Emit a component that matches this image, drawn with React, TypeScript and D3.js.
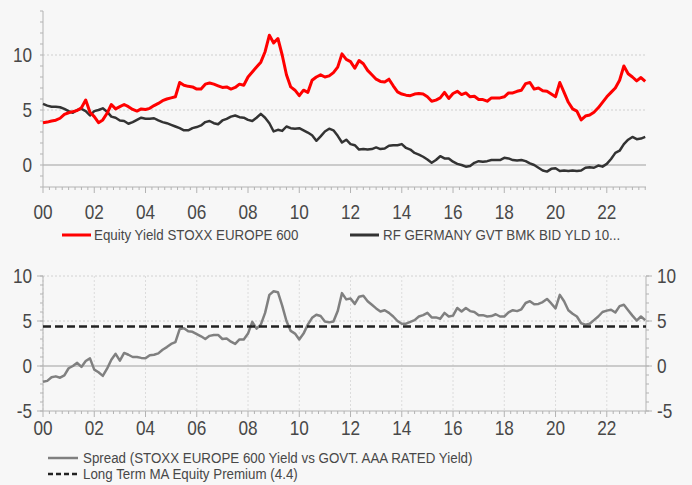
import React from 'react';
import * as d3 from 'd3';

// bi-monthly observations starting Jan 2000
const START_YEAR = 2000;
const STEP = 1 / 6;

const equityYield = [
  3.84, 3.9, 4.0, 4.07, 4.25, 4.6, 4.75, 4.85, 4.95, 5.2, 5.9, 4.8,
  4.4, 3.85, 4.1, 4.7, 5.5, 5.1, 5.3, 5.5, 5.3, 5.05, 4.9, 5.1,
  5.05, 5.15, 5.4, 5.6, 5.85, 6.0, 6.1, 6.2, 7.5, 7.25, 7.15, 7.1,
  6.9, 6.9, 7.35, 7.45, 7.35, 7.2, 7.05, 7.1, 6.9, 7.05, 7.35, 7.25,
  8.0, 8.45, 8.9, 9.35, 10.3, 11.8, 11.1, 11.5, 10.0, 8.2, 7.1, 6.8,
  6.3, 6.8, 6.6, 7.7, 8.0, 8.2, 8.0, 8.1, 8.4, 8.9, 10.1, 9.6,
  9.4, 8.8, 9.5, 9.2, 8.6, 8.2, 7.8, 7.6, 7.55, 7.8, 7.2, 6.65,
  6.45, 6.35, 6.3, 6.45, 6.5, 6.45, 6.2, 5.8, 5.9, 6.1, 6.6, 6.05,
  6.5, 6.7, 6.4, 6.55, 6.2, 6.25, 5.95, 5.95, 5.8, 6.1, 6.1, 6.1,
  6.2, 6.55, 6.55, 6.7, 6.8, 7.4, 7.5, 6.9, 7.0, 6.75, 6.7, 6.45,
  6.2, 7.5, 6.6, 5.7, 5.1, 4.9, 4.1, 4.45, 4.55, 4.8, 5.2, 5.7,
  6.2, 6.6, 7.0, 7.7, 9.0, 8.3, 8.0, 7.65, 7.95, 7.6,
];

const bundYield = [
  5.55, 5.4, 5.3, 5.3, 5.25, 5.1, 4.9, 4.75, 5.0, 5.1, 4.9, 4.5,
  4.9, 5.0, 5.15, 4.85, 4.4, 4.3, 4.05, 4.0, 3.75, 3.9, 4.1, 4.3,
  4.2, 4.2, 4.25, 4.05, 3.9, 3.8, 3.65, 3.5, 3.35, 3.15, 3.15, 3.35,
  3.45, 3.6, 3.9, 4.0, 3.8, 3.7, 4.05, 4.2, 4.4, 4.5, 4.35, 4.3,
  4.1, 4.0, 4.3, 4.65, 4.3, 3.8, 3.05, 3.2, 3.1, 3.5, 3.35, 3.3,
  3.35, 3.15, 2.95, 2.7, 2.2, 2.6, 3.05, 3.3, 3.15, 2.65, 2.05, 2.3,
  1.9, 1.8, 1.4, 1.45, 1.4, 1.45, 1.6, 1.45, 1.5, 1.75, 1.8, 1.8,
  1.9, 1.55, 1.4, 1.1, 0.95, 0.75, 0.5, 0.2, 0.45, 0.8, 0.6, 0.6,
  0.3, 0.1, 0.0, -0.15, -0.1, 0.2, 0.35, 0.3, 0.35, 0.45, 0.45, 0.45,
  0.65, 0.6, 0.45, 0.4, 0.45, 0.35, 0.15, 0.0, -0.25, -0.5, -0.6, -0.35,
  -0.3, -0.55, -0.5, -0.55, -0.5, -0.55, -0.5, -0.25, -0.2, -0.25, -0.05, -0.15,
  0.1, 0.55, 1.1, 1.3, 1.9, 2.3, 2.55, 2.35, 2.4, 2.55,
];

const spread = [
  -1.75, -1.65, -1.25, -1.15, -1.3, -1.05, -0.25, 0.0, 0.35, -0.1, 0.55, 0.85,
  -0.4, -0.7, -1.1, -0.3, 0.7, 1.35, 0.6, 1.45, 1.25, 1.0, 1.0, 0.9,
  0.85, 1.2, 1.25, 1.4, 1.8, 2.1, 2.45, 2.65, 4.1, 4.2, 3.85, 3.8,
  3.55, 3.3, 3.0, 3.35, 3.45, 3.45, 3.0, 3.05, 2.7, 2.45, 2.95, 2.95,
  3.6, 4.9, 4.15, 4.6, 5.9, 7.9, 8.3, 8.2, 6.7, 5.0, 3.9, 3.6,
  2.95, 3.6, 4.6, 5.35, 5.7, 5.55, 4.95, 4.85, 4.95, 6.1, 8.1, 7.4,
  7.5, 6.9, 7.7, 7.8, 7.2, 6.8, 6.4, 6.05, 6.2, 5.9, 5.5, 5.0,
  4.7, 4.7, 4.9, 5.1, 5.5, 5.65, 5.9, 5.4, 5.4, 5.25, 5.9, 5.5,
  5.6, 6.45, 6.05, 6.45, 6.1, 6.0, 5.65, 5.65, 5.5, 5.55, 5.75, 5.5,
  5.5, 5.95, 6.2, 6.1, 6.3, 7.0, 7.2, 6.85, 6.9, 7.1, 7.45, 6.95,
  6.4, 7.9, 7.2, 6.2, 5.8, 5.5, 4.75, 4.6, 4.7, 5.1, 5.5, 6.0,
  6.15, 6.25, 5.95, 6.65, 6.8, 6.2, 5.6, 5.05, 5.5, 5.1,
];

const equityPremium = 4.4;

const yearLabels = [2000, 2002, 2004, 2006, 2008, 2010, 2012, 2014, 2016, 2018, 2020, 2022];
const topYTicks = [0, 5, 10];
const bottomYTicks = [-5, 0, 5, 10];

const seriesNames = {
  equity: 'Equity Yield STOXX EUROPE 600',
  bund: 'RF GERMANY GVT BMK BID YLD 10...',
  spread: 'Spread (STOXX EUROPE 600 Yield vs GOVT. AAA RATED Yield)',
  premium: 'Long Term MA Equity Premium (4.4)',
};

const FONT = "'Liberation Sans', Arial, sans-serif";
const AXIS = '#b3b3b3';
const TEXT = '#484848';

const W = 692;
const H = 485;

// condensed-looking text (no narrow font installed)
const Txt: React.FC<{ x: number; y: number; size: number; anchor?: string; sx?: number; children: React.ReactNode }> =
  ({ x, y, size, anchor = 'start', sx = 0.86, children }) => (
    <text transform={`translate(${x},${y}) scale(${sx},1)`} textAnchor={anchor} dominantBaseline="central"
      fontSize={size} fill={TEXT}>{children}</text>
  );

const App: React.FC = () => {
  const x = d3.scaleLinear().domain([2000, 2023.53]).range([43, 646]);
  const yTop = d3.scaleLinear().domain([-2, 14]).range([187, 11]);
  const yBot = d3.scaleLinear().domain([-5, 10]).range([411, 276]);

  const tx = (i: number) => x(START_YEAR + i * STEP);
  const lineTop = d3.line<number>().x((_, i) => tx(i)).y(d => yTop(d));
  const lineBot = d3.line<number>().x((_, i) => tx(i)).y(d => yBot(d));

  const quarters = d3.range(2000, 2023.53, 0.25);
  const [x0, x1] = x.range();

  const xAxis = (y0: number, labelY: number) => (
    <g>
      <line x1={x0} x2={x1} y1={y0} y2={y0} stroke={AXIS} strokeWidth={1} />
      {quarters.map(q => {
        const major = yearLabels.includes(q);
        return (
          <line key={q} x1={x(q)} x2={x(q)} y1={y0} y2={y0 + (major ? 6 : 3)} stroke={AXIS} strokeWidth={1} />
        );
      })}
      {yearLabels.map(yr => (
        <Txt key={yr} x={x(yr)} y={labelY} size={20} anchor="middle">{d3.format('02d')(yr % 100)}</Txt>
      ))}
    </g>
  );

  const minorTop = d3.range(-2, 15, 1);
  const minorBot = d3.range(-5, 11, 1);

  return (
    <div style={{ position: 'absolute', left: 0, top: 0 }}>
      <svg width={W} height={H} style={{ display: 'block', background: '#f7f7f7', fontFamily: FONT }}>
        {/* top panel */}
        {topYTicks.map(t => (
          <line key={t} x1={x0} x2={x1} y1={yTop(t)} y2={yTop(t)}
            stroke={t === 0 ? '#bdbdbd' : '#cfcfcf'} strokeWidth={t === 0 ? 1.5 : 1}
            strokeDasharray={t === 0 ? undefined : '2,2'} />
        ))}
        <line x1={x0} x2={x0} y1={yTop(14)} y2={yTop(-2)} stroke={AXIS} />
        {minorTop.map(t => (
          <line key={t} x1={x0 - 3} x2={x0} y1={yTop(t)} y2={yTop(t)} stroke={AXIS} />
        ))}
        {topYTicks.map(t => (
          <Txt key={t} x={32} y={yTop(t)} size={20} anchor="end">{t}</Txt>
        ))}
        {xAxis(187, 212)}
        <path d={lineTop(bundYield) || ''} fill="none" stroke="#333" strokeWidth={2.5} strokeLinejoin="round" />
        <path d={lineTop(equityYield) || ''} fill="none" stroke="#ff0000" strokeWidth={3} strokeLinejoin="round" />

        {/* top legend */}
        <line x1={62} x2={91} y1={235} y2={235} stroke="#ff0000" strokeWidth={3} />
        <Txt x={94} y={235} size={15} sx={0.89}>{seriesNames.equity}</Txt>
        <line x1={350} x2={379} y1={235} y2={235} stroke="#333" strokeWidth={3} />
        <Txt x={383} y={235} size={15} sx={0.89}>{seriesNames.bund}</Txt>

        {/* bottom panel */}
        {yearLabels.map(yr => (
          <line key={yr} x1={x(yr)} x2={x(yr)} y1={yBot(10)} y2={yBot(-5)} stroke="#dcdcdc" strokeDasharray="2,2" />
        ))}
        {[5, 10].map(t => (
          <line key={t} x1={x0} x2={x1} y1={yBot(t)} y2={yBot(t)} stroke="#d2d2d2" strokeDasharray="2,2" />
        ))}
        <line x1={x0} x2={x1} y1={yBot(0)} y2={yBot(0)} stroke="#bdbdbd" strokeWidth={1.5} />
        <line x1={x0} x2={x0} y1={yBot(10)} y2={yBot(-5)} stroke={AXIS} />
        <line x1={x1} x2={x1} y1={yBot(10)} y2={yBot(-5)} stroke={AXIS} />
        {minorBot.map(t => (
          <g key={t}>
            <line x1={x0 - 3} x2={x0} y1={yBot(t)} y2={yBot(t)} stroke={AXIS} />
            <line x1={x1} x2={x1 + 3} y1={yBot(t)} y2={yBot(t)} stroke={AXIS} />
          </g>
        ))}
        {bottomYTicks.map(t => (
          <g key={t}>
            <line x1={x0 - 6} x2={x0} y1={yBot(t)} y2={yBot(t)} stroke={AXIS} />
            <line x1={x1} x2={x1 + 6} y1={yBot(t)} y2={yBot(t)} stroke={AXIS} />
            <Txt x={32} y={yBot(t)} size={20} anchor="end">{t}</Txt>
            <Txt x={657} y={yBot(t)} size={20}>{t}</Txt>
          </g>
        ))}
        {xAxis(411, 428)}
        <path d={lineBot(spread) || ''} fill="none" stroke="#808080" strokeWidth={2.5} strokeLinejoin="round" />
        <line x1={x0} x2={x1} y1={yBot(equityPremium)} y2={yBot(equityPremium)} stroke="#222" strokeWidth={2.5} strokeDasharray="8,4" />

        {/* bottom legend */}
        <line x1={48} x2={78} y1={458} y2={458} stroke="#808080" strokeWidth={2.5} />
        <Txt x={83} y={458} size={15} sx={0.89}>{seriesNames.spread}</Txt>
        <line x1={48} x2={78} y1={474} y2={474} stroke="#222" strokeWidth={2.5} strokeDasharray="5,3" />
        <Txt x={83} y={474} size={15} sx={0.89}>{seriesNames.premium}</Txt>
      </svg>
    </div>
  );
};

export default App;
